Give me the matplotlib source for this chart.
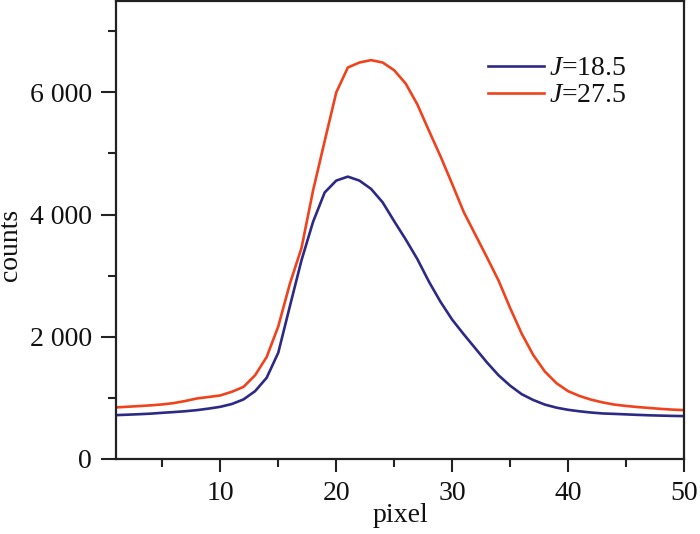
import matplotlib
matplotlib.use("Agg")
import matplotlib.pyplot as plt
from matplotlib.ticker import MultipleLocator, FuncFormatter

plt.rcParams['font.family'] = ['Liberation Serif', 'DejaVu Serif']
plt.rcParams['mathtext.fontset'] = 'custom'
plt.rcParams['mathtext.rm'] = 'Liberation Serif'
plt.rcParams['mathtext.it'] = 'Liberation Serif:italic'

pixel = list(range(1, 51))
counts_j185 = [718, 725, 733, 742, 756, 768, 782, 800, 825, 854,
               900, 975, 1110, 1330, 1740, 2500, 3250, 3880, 4360, 4555,
               4620, 4555, 4420, 4200, 3890, 3590, 3270, 2900, 2570, 2280,
               2040, 1810, 1580, 1370, 1200, 1060, 965, 890, 840, 805,
               780, 760, 745, 738, 730, 722, 715, 710, 705, 702]
counts_j275 = [844, 855, 866, 878, 893, 915, 950, 991, 1015, 1040,
               1100, 1180, 1370, 1670, 2170, 2868, 3450, 4392, 5200, 5997,
               6405, 6487, 6526, 6487, 6360, 6140, 5800, 5370, 4950, 4500,
               4040, 3670, 3300, 2920, 2470, 2050, 1700, 1430, 1240, 1110,
               1030, 970, 925, 890, 868, 850, 835, 820, 808, 800]
labels = ['$J$=18.5', '$J$=27.5']
colors = ['#2d2a86', '#f0421c']

fig = plt.figure(figsize=(7.0, 5.34), dpi=100)
ax = fig.add_axes([116/700, 75/534, 568/700, 458.4/534])

ax.plot(pixel, counts_j185, color=colors[0], lw=1.9, label=labels[0])
ax.plot(pixel, counts_j275, color=colors[1], lw=1.9, label=labels[1])

ax.set_xlim(1, 50)
ax.set_ylim(0, 7500)
ax.xaxis.set_major_locator(MultipleLocator(10))
ax.xaxis.set_minor_locator(MultipleLocator(5))
ax.yaxis.set_major_locator(MultipleLocator(2000))
ax.yaxis.set_minor_locator(MultipleLocator(1000))

def fmt(v, pos):
    v = int(round(v))
    if v >= 1000:
        return f"{v // 1000} {v % 1000:03d}"
    return str(v)
ax.yaxis.set_major_formatter(FuncFormatter(fmt))

for s in ax.spines.values():
    s.set_linewidth(1.6)
    s.set_color('#222222')

ax.tick_params(axis='y', which='major', direction='out', length=11, width=1.5,
               labelsize=20, pad=6.5, colors='#222222')
ax.tick_params(axis='y', which='minor', direction='out', length=5.5, width=1.5,
               colors='#222222')
ax.tick_params(axis='x', which='major', direction='out', length=9, width=1.5,
               labelsize=20, pad=7, colors='#222222')
ax.tick_params(axis='x', which='minor', direction='out', length=6, width=1.5,
               colors='#222222')
for t in ax.get_xticklabels() + ax.get_yticklabels():
    t.set_color('#111111')

fig.text(11/700, 1 - 245/534, 'counts', rotation=90, ha='center', va='center',
         fontsize=20, color='#111111')
fig.text(400/700, 1 - 515/534, 'pixel', ha='center', va='center',
         fontsize=20, color='#111111')

leg = ax.legend(loc='upper left', bbox_to_anchor=(488/700, 1 - 56/534),
                bbox_transform=fig.transFigure, frameon=False, fontsize=20,
                borderpad=0, borderaxespad=0, handlelength=2.0,
                handletextpad=0.2, labelspacing=0.05)
for t in leg.get_texts():
    t.set_color('#111111')

fig.savefig('out.png', dpi=100)
